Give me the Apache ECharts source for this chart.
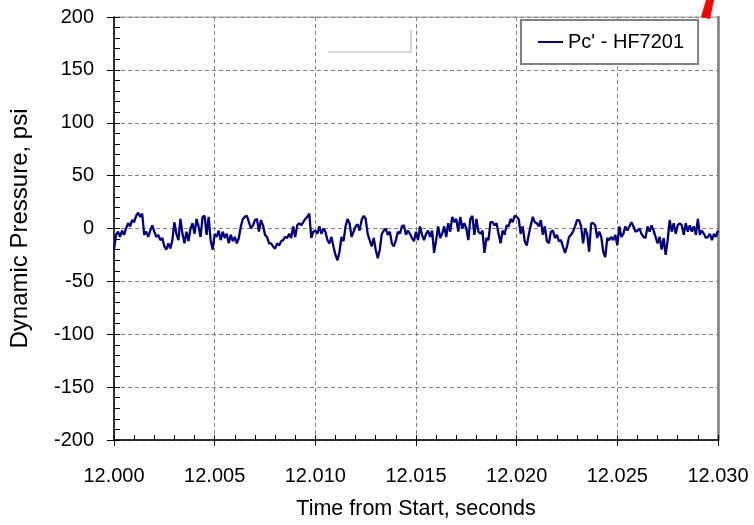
<!DOCTYPE html>
<html>
<head>
<meta charset="utf-8">
<script src="https://cdn.jsdelivr.net/npm/echarts@6/dist/echarts.min.js"></script>
<style>
html,body{margin:0;padding:0;background:#fff;}
#chart{width:754px;height:525px;}
</style>
</head>
<body>
<div id="chart"></div>
<script>
// Sampling of the trace (seconds)
const sampleStart = 12.000;
const sampleStep = 0.0001;
// Pc' - HF7201 dynamic pressure, psi (one value per sample)
const pressure = [
  -20, -6, -3, -8, -2, -6, 0, 5, 2, 8,
  6, 12, 15, 11, 14, -6, -3, -8, -2, 3,
  -3, -8, -6, -11, -9, -17, -20, -14, -19, -11,
  6, -5, -11, 9, -5, -14, -3, -12, 0, 5,
  -5, 9, 2, -8, 11, 12, -6, 11, -11, -20,
  -5, -8, -2, -11, -3, -9, -5, -14, -6, -12,
  -8, -14, -9, 2, 9, 11, 12, 6, 0, 3,
  8, 9, -3, 8, 3, -6, -8, -14, -14, -17,
  -19, -14, -16, -12, -11, -8, -9, -5, -9, 2,
  -8, 3, 5, 3, 6, 9, 11, 14, -9, -3,
  -2, -5, 2, -5, 0, -3, -11, -14, -8, -17,
  -25, -30, -22, -8, -12, 2, 9, 5, -8, -3,
  2, 4, -2, 8, 12, 9, -5, -11, -17, -9,
  -20, -28, -20, -5, -2, 0, -6, -3, -14, -17,
  -11, -3, -5, 2, 3, -6, -2, -5, -9, -12,
  -3, -11, 2, -6, -11, -5, -2, -8, -2, -23,
  -11, 2, -9, -5, 2, -8, 5, -3, 11, 6,
  9, -3, 11, 0, 5, 0, -11, 9, 12, -6,
  9, -3, -5, -2, -23, -9, -11, 6, 6, 3,
  5, -5, -14, -2, -6, 3, 2, 9, 6, 12,
  11, 9, -5, 2, -12, -16, -6, 3, 11, 6,
  5, 2, 8, -6, 2, -12, -14, -3, -2, -9,
  -6, -12, -11, -17, -23, -17, -8, -6, -3, 2,
  8, 8, 2, -14, 0, -5, -22, 5, 5, 3,
  -9, -3, -8, -22, -27, -9, -11, -8, -11, -6,
  -16, 2, -8, -5, 2, -2, 2, 6, 2, -3,
  -2, 0, -5, -8, -9, 2, -3, 3, -2, -8,
  -14, -8, -20, -9, -25, -11, 8, -3, 5, -5,
  3, 5, 3, -6, 5, -3, 3, -3, 2, -6,
  9, -6, -2, -5, -9, -8, -5, -11, -5, -8,
  -2
];
const seriesName = "Pc' - HF7201";
const xTitle = "Time from Start, seconds";
const yTitle = "Dynamic Pressure, psi";
const xMin = 12.000, xMax = 12.030, xStep = 0.005;
const yMin = -200, yMax = 200, yStep = 50;

const data = pressure.map((v, i) => [+(sampleStart + i * sampleStep).toFixed(4), v]);

const FONT = "'Liberation Sans', Arial, sans-serif";
const chart = echarts.init(document.getElementById('chart'), null, {renderer: 'canvas'});
const dash = {color: '#808080', type: [4, 3], width: 1};

chart.setOption({
  animation: false,
  backgroundColor: '#ffffff',
  textStyle: {fontFamily: FONT},
  grid: {left: 113, right: 36, top: 17, bottom: 83, show: true, borderColor: '#9a9a9a', borderWidth: 1},
  legend: {
    left: 521, top: 20,
    padding: [12, 14, 12, 17],
    itemWidth: 25, itemHeight: 2, itemGap: 5,
    borderColor: '#808080', borderWidth: 2,
    backgroundColor: '#ffffff',
    textStyle: {fontFamily: FONT, fontSize: 20, color: '#000'},
    data: [{name: seriesName, icon: 'rect'}]
  },
  xAxis: [{
    type: 'value', min: xMin, max: xMax, interval: xStep,
    position: 'bottom',
    axisLine: {show: true, onZero: false, lineStyle: {color: '#000', width: 1.5}},
    axisTick: {show: true, inside: false, length: 6, lineStyle: {color: '#000'}},
    axisLabel: {show: true, fontSize: 20, color: '#000', margin: 26, fontFamily: FONT,
      showMinLabel: true, showMaxLabel: true,
      formatter: v => Number(v).toFixed(3)},
    splitLine: {show: true, lineStyle: dash},
    name: xTitle, nameLocation: 'middle', nameGap: 58,
    nameTextStyle: {fontSize: 21.5, color: '#000', fontFamily: FONT}
  }, {
    type: 'value', min: xMin, max: xMax, interval: xStep,
    position: 'bottom',
    axisLine: {show: false, onZero: false},
    axisTick: {show: true, inside: true, length: 5, lineStyle: {color: '#000'}},
    minorTick: {show: true, splitNumber: 5, length: 5, lineStyle: {color: '#000'}},
    axisLabel: {show: false},
    splitLine: {show: false}
  }],
  yAxis: [{
    type: 'value', min: yMin, max: yMax, interval: yStep,
    position: 'left',
    axisLine: {show: true, onZero: false, lineStyle: {color: '#000', width: 1.5}},
    axisTick: {show: true, inside: false, length: 7, lineStyle: {color: '#000'}},
    axisLabel: {show: true, fontSize: 20, color: '#000', margin: 20, fontFamily: FONT},
    splitLine: {show: true, lineStyle: dash},
    name: yTitle, nameLocation: 'middle', nameGap: 82, nameRotate: 90,
    nameTextStyle: {fontSize: 24, color: '#000', fontFamily: FONT}
  }, {
    type: 'value', min: yMin, max: yMax, interval: yStep,
    position: 'left',
    axisLine: {show: false, onZero: false},
    axisTick: {show: true, inside: true, length: 6, lineStyle: {color: '#000'}},
    minorTick: {show: true, splitNumber: 5, length: 6, lineStyle: {color: '#000'}},
    axisLabel: {show: false},
    splitLine: {show: false}
  }, {
    type: 'value', min: yMin, max: yMax, interval: yStep,
    position: 'right',
    axisLine: {show: true, onZero: false, lineStyle: {color: '#7f7f7f', width: 2.5}},
    axisTick: {show: false}, axisLabel: {show: false}, splitLine: {show: false}
  }],
  series: [{
    name: seriesName,
    type: 'line',
    xAxisIndex: 0, yAxisIndex: 0,
    data: data,
    showSymbol: false,
    symbol: 'none',
    lineStyle: {color: '#000080', width: 2.3},
    itemStyle: {color: '#000080'}
  }],
  graphic: [
    {type: 'polyline', silent: true, z: 10,
     shape: {points: [[328, 52], [411, 52], [411, 30]]},
     style: {stroke: '#c8c8c8', lineWidth: 1.5, fill: null}},
    {type: 'polygon', silent: true, z: 10,
     shape: {points: [[706, 0], [714, 0], [710, 19], [701, 17]]},
     style: {fill: '#ff0000'}}
  ]
});
</script>
</body>
</html>
